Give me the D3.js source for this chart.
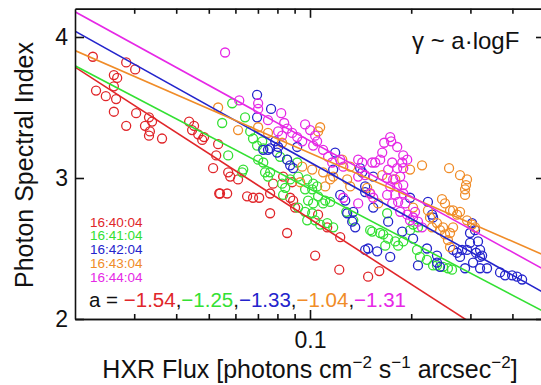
<!DOCTYPE html>
<html><head><meta charset="utf-8">
<script src="https://cdn.jsdelivr.net/npm/d3@7/dist/d3.min.js"></script>
<style>body{margin:0;background:#fff}svg{display:block}text{font-family:"Liberation Sans",Arial,Helvetica,sans-serif}</style>
</head><body><svg id="c" width="541" height="385"></svg>
<script>
const times = ["16:40:04","16:41:04","16:42:04","16:43:04","16:44:04"];
const colors = ["#e0262a","#33e033","#2424cc","#f08c28","#e628e6"];
const slopes = [-1.54,-1.25,-1.33,-1.04,-1.31];
const intercepts = [1.170,1.672,1.782,2.137,1.953];
const slopeLabels = ["\u22121.54","\u22121.25","\u22121.33","\u22121.04","\u22121.31"];
const xMajorTicks = [0.1];
const xMinorTicks = [0.03,0.04,0.05,0.06,0.07,0.08,0.09,0.2,0.3,0.4];
const yTicks = [2,3,4];

const red = [[0.0226,3.86],[0.0231,3.62],[0.0247,3.58],[0.0261,3.73],[0.0267,3.71],[0.0261,3.65],[0.0265,3.56],[0.0261,3.47],[0.0284,3.82],[0.0302,3.77],[0.0304,3.46],[0.0284,3.37],[0.0332,3.43],[0.0339,3.40],[0.0323,3.37],[0.0334,3.33],[0.0332,3.30],[0.0363,3.28],[0.0437,3.40],[0.0452,3.37],[0.0446,3.34],[0.0465,3.31],[0.0484,3.29],[0.0533,3.24],[0.0526,3.16],[0.0515,3.07],[0.0537,2.89],[0.0571,3.04],[0.0579,3.01],[0.0611,2.99],[0.0540,2.89],[0.0567,2.89],[0.0650,2.87],[0.0677,2.86],[0.0706,2.86],[0.0761,2.89],[0.0761,2.75],[0.0777,2.96],[0.0832,3.01],[0.0885,2.97],[0.0873,2.86],[0.0891,2.84],[0.0903,2.79],[0.0855,2.61],[0.1057,2.74],[0.1036,2.45],[0.1222,2.35],[0.1230,2.58],[0.1489,2.30],[0.1607,2.34],[0.1125,2.65],[0.0478,3.27]];
const green = [[0.0587,3.53],[0.0548,3.39],[0.0641,3.43],[0.0664,3.33],[0.0677,3.28],[0.0696,3.23],[0.0721,3.26],[0.0571,3.16],[0.0701,3.13],[0.0726,3.11],[0.0633,3.06],[0.0735,3.04],[0.0750,3.01],[0.0826,2.96],[0.0844,2.93],[0.0832,2.88],[0.0967,2.92],[0.1015,2.92],[0.1050,2.94],[0.0987,2.84],[0.1022,2.82],[0.1057,2.87],[0.1110,2.84],[0.0922,2.79],[0.0967,2.76],[0.1015,2.75],[0.0916,3.11],[0.0628,3.04],[0.0761,3.04],[0.0815,3.15],[0.0855,3.13],[0.0726,3.21],[0.0873,2.99],[0.0981,2.99],[0.1022,2.96],[0.0922,3.01],[0.0981,2.70],[0.1072,2.67],[0.1125,2.68],[0.1172,2.65],[0.1094,2.82],[0.1148,2.83],[0.1036,2.70],[0.1282,2.76],[0.1345,2.70],[0.1531,2.62],[0.1617,2.61],[0.1708,2.57],[0.1793,2.55],[0.1829,2.52],[0.1894,2.55],[0.2081,2.49],[0.2323,2.38],[0.2487,2.37],[0.2572,2.36],[0.2645,2.35],[0.1674,2.52],[0.1510,2.63],[0.1651,2.60],[0.1696,2.75],[0.1984,2.63],[0.2026,2.67],[0.2095,2.65],[0.2124,2.44],[0.2228,2.42],[0.2386,2.38]];
const blue = [[0.0696,3.59],[0.0696,3.43],[0.0766,3.49],[0.0788,3.26],[0.0804,3.22],[0.0750,3.20],[0.0798,3.18],[0.0726,3.20],[0.0761,3.21],[0.0855,3.13],[0.0873,3.09],[0.0891,3.07],[0.0916,3.22],[0.1188,3.18],[0.1172,3.06],[0.1410,3.07],[0.1430,3.04],[0.1459,2.94],[0.1230,2.88],[0.1273,2.84],[0.1290,2.75],[0.1335,2.69],[0.1363,2.65],[0.1345,2.76],[0.1489,2.50],[0.1584,2.48],[0.1732,2.44],[0.1708,2.69],[0.1881,2.62],[0.2026,2.57],[0.2095,2.38],[0.2228,2.50],[0.2386,2.45],[0.2386,2.40],[0.2323,2.72],[0.2737,2.47],[0.2833,2.49],[0.2931,2.49],[0.2892,2.36],[0.3034,2.68],[0.3097,2.63],[0.3160,2.55],[0.3205,2.49],[0.3250,2.45],[0.3055,2.40],[0.3205,2.36],[0.3362,2.36],[0.3675,2.33],[0.3804,2.31],[0.3991,2.31],[0.4129,2.30],[0.4274,2.28],[0.1542,2.79],[0.1542,3.01],[0.1459,2.90],[0.1984,2.86],[0.2243,2.83],[0.2307,2.74],[0.1459,2.49],[0.2436,2.37],[0.2664,2.49],[0.2794,2.44],[0.2992,2.54],[0.3118,2.47],[0.3205,2.44],[0.2992,2.61]];
const orange = [[0.0533,3.50],[0.0611,3.34],[0.0701,3.36],[0.0750,3.32],[0.1072,3.36],[0.1057,3.33],[0.0948,3.08],[0.1015,3.06],[0.1247,3.13],[0.1317,3.08],[0.1148,2.99],[0.1110,2.94],[0.1317,2.94],[0.0935,2.97],[0.1094,3.04],[0.1172,3.01],[0.1290,2.99],[0.1640,3.02],[0.1984,3.06],[0.2154,3.09],[0.2592,3.07],[0.2794,3.02],[0.2931,2.99],[0.2911,2.95],[0.2892,2.92],[0.2892,2.88],[0.2470,2.85],[0.2521,2.82],[0.2026,2.79],[0.1510,2.89],[0.1479,2.93],[0.2275,2.72],[0.2386,2.68],[0.2487,2.65],[0.2664,2.77],[0.2737,2.74],[0.2794,2.76],[0.2436,2.63],[0.2521,2.60],[0.2572,2.56],[0.2609,2.51],[0.2664,2.65],[0.2609,2.61],[0.2307,2.65],[0.2931,2.70],[0.3034,2.67],[0.3097,2.65],[0.2609,2.77],[0.2243,2.77],[0.1595,2.82],[0.0826,3.25],[0.1793,2.99]];
const magenta = [[0.0559,3.89],[0.0616,3.55],[0.0701,3.53],[0.0701,3.49],[0.0750,3.41],[0.0821,3.46],[0.0838,3.39],[0.0855,3.35],[0.0804,3.33],[0.0826,3.30],[0.0885,3.32],[0.0916,3.29],[0.0948,3.26],[0.0967,3.38],[0.1001,3.34],[0.1036,3.30],[0.1022,3.23],[0.1050,3.26],[0.1132,3.15],[0.1164,3.11],[0.1230,3.13],[0.1256,3.08],[0.1391,3.13],[0.1531,3.11],[0.1391,3.01],[0.1256,2.86],[0.1391,2.82],[0.1662,3.25],[0.1744,3.26],[0.1817,3.22],[0.1894,3.16],[0.1640,3.18],[0.1563,3.11],[0.1617,3.13],[0.1756,3.11],[0.1881,3.11],[0.1946,3.13],[0.1708,3.06],[0.1817,3.07],[0.1894,3.07],[0.1696,3.00],[0.1768,2.99],[0.1855,3.01],[0.1732,2.94],[0.1817,2.94],[0.1894,2.95],[0.1696,2.88],[0.1793,2.88],[0.1894,2.89],[0.1756,2.82],[0.1829,2.83],[0.1920,2.82],[0.1855,2.76],[0.1946,2.74],[0.2026,2.72],[0.1984,2.70],[0.2095,2.69],[0.2154,2.65],[0.1430,3.11],[0.1510,2.89],[0.1542,2.86],[0.2053,2.76],[0.1732,3.29],[0.1459,3.02],[0.1094,3.20]];
const seriesData = [red, green, blue, orange, magenta];

const svg = d3.select("#c");
const L = 75, R = 545, T = 8.8, B = 319;
const x = d3.scaleLog().domain([0.02, 0.5]).range([L, R]);
const y = d3.scaleLinear().domain([2, 4.2]).range([B, T]);

svg.append("defs").append("clipPath").attr("id","clip")
  .append("rect").attr("x",L).attr("y",T).attr("width",R-L).attr("height",B-T);

const plot = svg.append("g").attr("clip-path","url(#clip)");
seriesData.forEach((pts,i)=>{
  plot.append("g").selectAll("circle").data(pts).join("circle")
    .attr("cx",d=>x(d[0])).attr("cy",d=>y(d[1])).attr("r",4.5)
    .attr("fill","none").attr("stroke",colors[i]).attr("stroke-width",1.3);
});
seriesData.forEach((pts,i)=>{
  const dom = x.domain();
  plot.append("line")
    .attr("x1",x(dom[0])).attr("y1",y(slopes[i]*Math.log10(dom[0])+intercepts[i]))
    .attr("x2",x(dom[1])).attr("y2",y(slopes[i]*Math.log10(dom[1])+intercepts[i]))
    .attr("stroke",colors[i]).attr("stroke-width",1.6);
});

function styleAxis(g){
  g.selectAll("path,line").attr("stroke","#111").attr("stroke-width",1.6);
  g.selectAll("text").attr("fill","#111").style("font-size","23px").style("font-family",'"Liberation Sans",Arial,sans-serif');
}
svg.append("g").attr("transform",`translate(${L},0)`)
  .call(d3.axisLeft(y).tickValues(yTicks).tickFormat(d3.format("d")).tickSize(-9).tickSizeOuter(0).tickPadding(7))
  .call(styleAxis);
svg.append("g").attr("transform",`translate(${R},0)`)
  .call(d3.axisRight(y).tickValues(yTicks).tickFormat("").tickSize(-9).tickSizeOuter(0))
  .call(styleAxis);
svg.append("g").attr("transform",`translate(0,${B})`)
  .call(d3.axisBottom(x).tickValues(xMajorTicks).tickFormat(d3.format(".1f")).tickSize(-9).tickSizeOuter(0).tickPadding(13))
  .call(styleAxis);
svg.append("g").attr("transform",`translate(0,${B})`)
  .call(d3.axisBottom(x).tickValues(xMinorTicks).tickFormat("").tickSize(-5).tickSizeOuter(0))
  .call(styleAxis);
svg.append("g").attr("transform",`translate(0,${T})`)
  .call(d3.axisTop(x).tickValues(xMajorTicks).tickFormat("").tickSize(-9).tickSizeOuter(0))
  .call(styleAxis);
svg.append("g").attr("transform",`translate(0,${T})`)
  .call(d3.axisTop(x).tickValues(xMinorTicks).tickFormat("").tickSize(-5).tickSizeOuter(0))
  .call(styleAxis);

// Titles
svg.append("text").attr("transform","translate(33,165) rotate(-90)")
  .attr("text-anchor","middle").style("font-size","25px").attr("fill","#111")
  .text("Photon Spectral Index");

const xt = svg.append("text").attr("x",310).attr("y",378).attr("text-anchor","middle")
  .style("font-size","25px").attr("fill","#111");
xt.append("tspan").text("HXR Flux [photons cm");
xt.append("tspan").attr("dy",-10).style("font-size","17px").text("\u22122");
xt.append("tspan").attr("dy",10).text(" s");
xt.append("tspan").attr("dy",-10).style("font-size","17px").text("\u22121");
xt.append("tspan").attr("dy",10).text(" arcsec");
xt.append("tspan").attr("dy",-10).style("font-size","17px").text("\u22122");
xt.append("tspan").attr("dy",10).text("]");

svg.append("text").attr("x",412).attr("y",49).style("font-size","24px").attr("fill","#111")
  .text("\u03b3 ~ a\u00b7logF");

// Legend
times.forEach((t,i)=>{
  svg.append("text").attr("x",90).attr("y",226.5+i*13.9).style("font-size","13.5px")
    .attr("fill",colors[i]).text(t);
});
const at = svg.append("text").attr("x",89).attr("y",306.5).style("font-size","20.5px");
at.append("tspan").attr("fill","#111").text("a = ");
slopeLabels.forEach((s,i)=>{
  at.append("tspan").attr("fill",colors[i]).text(s);
  if(i<slopeLabels.length-1) at.append("tspan").attr("fill","#111").text(",");
});
</script></body></html>
